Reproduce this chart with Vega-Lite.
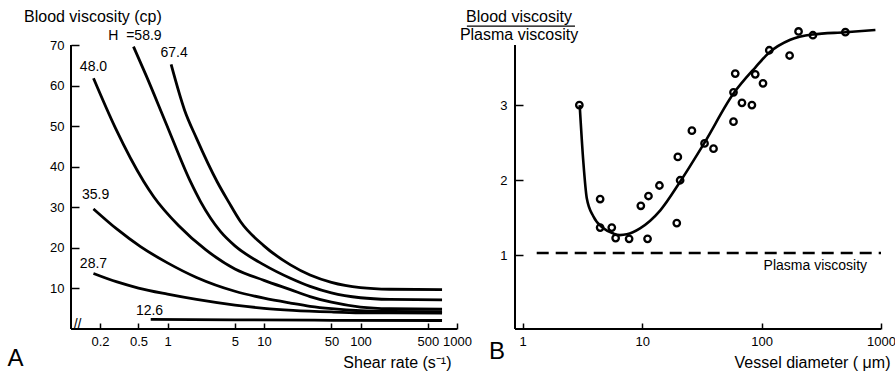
{
  "$schema": "https://vega.github.io/schema/vega-lite/v6.json",
  "padding": {"left": 7, "top": 8, "right": 0, "bottom": 0},
  "background": "white",
  "spacing": 58,
  "bounds": "flush",
  "config": {
    "view": {"stroke": null},
    "font": "Liberation Sans",
    "axis": {
      "grid": false,
      "domain": false,
      "ticks": true,
      "tickColor": "black",
      "tickWidth": 1.5,
      "labelColor": "black",
      "labelFont": "Liberation Sans",
      "labelFontSize": 13,
      "labelOverlap": false,
      "labelFlush": false,
      "titleFont": "Liberation Sans",
      "titleFontSize": 16,
      "titleFontWeight": "normal",
      "titleColor": "black"
    },
    "title": {"font": "Liberation Sans", "fontSize": 24, "fontWeight": "normal", "color": "black"}
  },
  "hconcat": [
    {
      "width": 386,
      "height": 284,
      "title": {"text": "A", "orient": "bottom", "anchor": "start", "frame": "group", "dx": -63.5, "offset": -24},
      "layer": [
        {
          "data": {"values": [{"a": 0.1, "a2": 1000, "b": 0}]},
          "mark": {"type": "rule", "color": "black", "strokeWidth": 2},
          "encoding": {
            "x": {"field": "a", "type": "quantitative"},
            "x2": {"field": "a2"},
            "y": {"field": "b", "type": "quantitative"}
          }
        },
        {
          "data": {"values": [{"a": 0.1, "b": 0, "b2": 70}]},
          "mark": {"type": "rule", "color": "black", "strokeWidth": 2},
          "encoding": {
            "x": {"field": "a", "type": "quantitative"},
            "y": {"field": "b", "type": "quantitative"},
            "y2": {"field": "b2"}
          }
        },
        {
          "data": {"values": [
            {"H": "12.6", "shear": 0.67, "visc": 2.35},
            {"H": "12.6", "shear": 5, "visc": 2.25},
            {"H": "12.6", "shear": 50, "visc": 2.15},
            {"H": "12.6", "shear": 700, "visc": 2.1},
            {"H": "28.7", "shear": 0.171, "visc": 13.7},
            {"H": "28.7", "shear": 0.3, "visc": 11.6},
            {"H": "28.7", "shear": 0.5, "visc": 10.1},
            {"H": "28.7", "shear": 1, "visc": 8.6},
            {"H": "28.7", "shear": 2, "visc": 7.3},
            {"H": "28.7", "shear": 5, "visc": 5.9},
            {"H": "28.7", "shear": 10, "visc": 5.1},
            {"H": "28.7", "shear": 20, "visc": 4.6},
            {"H": "28.7", "shear": 50, "visc": 4.2},
            {"H": "28.7", "shear": 100, "visc": 4.0},
            {"H": "28.7", "shear": 200, "visc": 3.95},
            {"H": "28.7", "shear": 700, "visc": 3.9},
            {"H": "35.9", "shear": 0.171, "visc": 29.6},
            {"H": "35.9", "shear": 0.3, "visc": 24.6},
            {"H": "35.9", "shear": 0.525, "visc": 20.3},
            {"H": "35.9", "shear": 1, "visc": 16.3},
            {"H": "35.9", "shear": 2, "visc": 12.7},
            {"H": "35.9", "shear": 5, "visc": 9.3},
            {"H": "35.9", "shear": 10, "visc": 7.6},
            {"H": "35.9", "shear": 18.8, "visc": 6.4},
            {"H": "35.9", "shear": 30, "visc": 5.6},
            {"H": "35.9", "shear": 50, "visc": 5.0},
            {"H": "35.9", "shear": 100, "visc": 4.5},
            {"H": "35.9", "shear": 200, "visc": 4.35},
            {"H": "35.9", "shear": 700, "visc": 4.3},
            {"H": "48.0", "shear": 0.171, "visc": 61.8},
            {"H": "48.0", "shear": 0.289, "visc": 49.5},
            {"H": "48.0", "shear": 0.569, "visc": 36.3},
            {"H": "48.0", "shear": 0.72, "visc": 32.6},
            {"H": "48.0", "shear": 1.3, "visc": 25.5},
            {"H": "48.0", "shear": 2.5, "visc": 19.5},
            {"H": "48.0", "shear": 5, "visc": 14.8},
            {"H": "48.0", "shear": 10, "visc": 12.0},
            {"H": "48.0", "shear": 18.8, "visc": 9.7},
            {"H": "48.0", "shear": 30, "visc": 8.0},
            {"H": "48.0", "shear": 50, "visc": 6.6},
            {"H": "48.0", "shear": 100, "visc": 5.4},
            {"H": "48.0", "shear": 200, "visc": 5.0},
            {"H": "48.0", "shear": 700, "visc": 4.9},
            {"H": "58.9", "shear": 0.444, "visc": 69.6},
            {"H": "58.9", "shear": 0.6, "visc": 62.5},
            {"H": "58.9", "shear": 0.95, "visc": 51.1},
            {"H": "58.9", "shear": 1.73, "visc": 36.3},
            {"H": "58.9", "shear": 2.2, "visc": 31.4},
            {"H": "58.9", "shear": 3.55, "visc": 24.0},
            {"H": "58.9", "shear": 5, "visc": 20.5},
            {"H": "58.9", "shear": 10, "visc": 15.8},
            {"H": "58.9", "shear": 18.8, "visc": 12.5},
            {"H": "58.9", "shear": 30, "visc": 10.5},
            {"H": "58.9", "shear": 50, "visc": 8.9},
            {"H": "58.9", "shear": 100, "visc": 7.7},
            {"H": "58.9", "shear": 200, "visc": 7.3},
            {"H": "58.9", "shear": 700, "visc": 7.2},
            {"H": "67.4", "shear": 1.09, "visc": 65.2},
            {"H": "67.4", "shear": 1.5, "visc": 54.0},
            {"H": "67.4", "shear": 2, "visc": 47.0},
            {"H": "67.4", "shear": 3.27, "visc": 36.3},
            {"H": "67.4", "shear": 4.28, "visc": 31.4},
            {"H": "67.4", "shear": 5.7, "visc": 26.5},
            {"H": "67.4", "shear": 10, "visc": 20.5},
            {"H": "67.4", "shear": 18.8, "visc": 15.8},
            {"H": "67.4", "shear": 30, "visc": 13.3},
            {"H": "67.4", "shear": 50, "visc": 11.5},
            {"H": "67.4", "shear": 100, "visc": 10.2},
            {"H": "67.4", "shear": 200, "visc": 9.8},
            {"H": "67.4", "shear": 700, "visc": 9.7}
          ]},
          "mark": {"type": "line", "color": "black", "strokeWidth": 2.8, "interpolate": "monotone"},
          "encoding": {
            "x": {
              "field": "shear", "type": "quantitative",
              "scale": {"type": "log", "domain": [0.1, 1000], "nice": false},
              "axis": {
                "values": [0.2, 0.5, 1, 5, 10, 50, 100, 500, 1000],
                "format": "~g",
                "tickSize": -6,
                "labelPadding": 12,
                "title": "Shear rate (s⁻¹)",
                "titleAlign": "right",
                "titleBaseline": "alphabetic",
                "titleX": 380,
                "titleY": 38.5
              }
            },
            "y": {
              "field": "visc", "type": "quantitative",
              "scale": {"domain": [0, 70], "nice": false},
              "axis": {
                "values": [10, 20, 30, 40, 50, 60, 70],
                "tickSize": -8,
                "labelPadding": 15,
                "title": "Blood viscosity (cp)",
                "titleAngle": 0,
                "titleAlign": "left",
                "titleBaseline": "alphabetic",
                "titleX": -47.5,
                "titleY": -23.3
              }
            },
            "detail": {"field": "H"}
          }
        },
        {
          "data": {"values": [
            {"label": "H\u00a0\u00a0=58.9", "shear": 0.46, "visc": 71.2},
            {"label": "67.4", "shear": 1.17, "visc": 67.1},
            {"label": "48.0", "shear": 0.171, "visc": 63.7},
            {"label": "35.9", "shear": 0.18, "visc": 32.1},
            {"label": "28.7", "shear": 0.171, "visc": 15.1},
            {"label": "12.6", "shear": 0.651, "visc": 3.5},
            {"label": "//", "shear": 0.117, "visc": 0}
          ]},
          "mark": {"type": "text", "fontSize": 14, "align": "center", "baseline": "alphabetic", "color": "black"},
          "encoding": {
            "x": {"field": "shear", "type": "quantitative"},
            "y": {"field": "visc", "type": "quantitative"},
            "text": {"field": "label"}
          }
        }
      ]
    },
    {
      "width": 366,
      "height": 284,
      "title": {"text": "B", "orient": "bottom", "anchor": "start", "frame": "group", "dx": -26, "offset": -30},
      "layer": [
        {
          "data": {"values": [{"a": 0.862, "a2": 1000, "b": 0.02}]},
          "mark": {"type": "rule", "color": "black", "strokeWidth": 2},
          "encoding": {
            "x": {"field": "a", "type": "quantitative"},
            "x2": {"field": "a2"},
            "y": {"field": "b", "type": "quantitative"}
          }
        },
        {
          "data": {"values": [{"a": 0.862, "b": 0.02, "b2": 3.8}]},
          "mark": {"type": "rule", "color": "black", "strokeWidth": 2},
          "encoding": {
            "x": {"field": "a", "type": "quantitative"},
            "y": {"field": "b", "type": "quantitative"},
            "y2": {"field": "b2"}
          }
        },
        {
          "data": {"values": [{"d": 1.31, "d2": 1000, "r": 1.03}]},
          "mark": {"type": "rule", "color": "black", "strokeWidth": 2.5, "strokeDash": [12, 7]},
          "encoding": {
            "x": {"field": "d", "type": "quantitative"},
            "x2": {"field": "d2"},
            "y": {"field": "r", "type": "quantitative"}
          }
        },
        {
          "data": {"values": [{"d": 0.341, "d2": 2.74, "r": 4.05}]},
          "mark": {"type": "rule", "color": "black", "strokeWidth": 1.2},
          "encoding": {
            "x": {"field": "d", "type": "quantitative"},
            "x2": {"field": "d2"},
            "y": {"field": "r", "type": "quantitative"}
          }
        },
        {
          "data": {"values": [
            {"d": 3.0, "r": 3.0},
            {"d": 3.22, "r": 2.24},
            {"d": 3.44, "r": 1.76},
            {"d": 3.9, "r": 1.52},
            {"d": 4.74, "r": 1.36},
            {"d": 5.75, "r": 1.29},
            {"d": 6.5, "r": 1.27},
            {"d": 7.44, "r": 1.28},
            {"d": 9.6, "r": 1.36},
            {"d": 14.2, "r": 1.6},
            {"d": 20.8, "r": 1.98},
            {"d": 33.3, "r": 2.5},
            {"d": 58, "r": 3.15},
            {"d": 88.5, "r": 3.5},
            {"d": 116, "r": 3.7},
            {"d": 174, "r": 3.87},
            {"d": 269, "r": 3.94},
            {"d": 503, "r": 3.97},
            {"d": 898, "r": 4.0}
          ]},
          "mark": {"type": "line", "color": "black", "strokeWidth": 2.6, "interpolate": "monotone"},
          "encoding": {
            "x": {"field": "d", "type": "quantitative"},
            "y": {"field": "r", "type": "quantitative"}
          }
        },
        {
          "data": {"values": [
            {"d": 2.98, "r": 3.0},
            {"d": 4.45, "r": 1.75},
            {"d": 11.3, "r": 1.79},
            {"d": 13.96, "r": 1.93},
            {"d": 19.9, "r": 2.31},
            {"d": 20.8, "r": 2.0},
            {"d": 26.1, "r": 2.66},
            {"d": 33.3, "r": 2.49},
            {"d": 39.6, "r": 2.42},
            {"d": 58.2, "r": 2.78},
            {"d": 58.2, "r": 3.17},
            {"d": 60.2, "r": 3.42},
            {"d": 68.5, "r": 3.03},
            {"d": 83, "r": 3.0},
            {"d": 88.5, "r": 3.41},
            {"d": 102.8, "r": 3.29},
            {"d": 116, "r": 3.73},
            {"d": 171.7, "r": 3.66},
            {"d": 204, "r": 3.98},
            {"d": 269, "r": 3.93},
            {"d": 503, "r": 3.97},
            {"d": 4.45, "r": 1.37},
            {"d": 5.57, "r": 1.37},
            {"d": 6.0, "r": 1.23},
            {"d": 7.78, "r": 1.22},
            {"d": 9.75, "r": 1.66},
            {"d": 11.1, "r": 1.22},
            {"d": 19.5, "r": 1.43}
          ]},
          "mark": {"type": "point", "shape": "circle", "filled": false, "color": "black", "strokeWidth": 2.3, "size": 42, "opacity": 1},
          "encoding": {
            "x": {
              "field": "d", "type": "quantitative",
              "scale": {"type": "log", "domain": [0.862, 1000], "nice": false},
              "axis": {
                "values": [1, 10, 100, 1000],
                "format": "~g",
                "tickSize": -6,
                "labelPadding": 12,
                "title": "Vessel diameter ( μm)",
                "titleAlign": "right",
                "titleBaseline": "alphabetic",
                "titleX": 375,
                "titleY": 38
              }
            },
            "y": {
              "field": "r", "type": "quantitative",
              "scale": {"domain": [0.02, 3.8], "nice": false, "zero": false},
              "axis": {
                "values": [1, 2, 3],
                "format": "~g",
                "tickSize": -8,
                "labelPadding": 16,
                "title": ["Blood viscosity", "Plasma viscosity"],
                "titleAngle": 0,
                "titleAlign": "center",
                "titleBaseline": "alphabetic",
                "titleLineHeight": 17.7,
                "titleX": 3.5,
                "titleY": -23.3
              }
            }
          }
        },
        {
          "data": {"values": [{"label": "Plasma viscosity", "d": 282, "r": 0.8}]},
          "mark": {"type": "text", "fontSize": 14, "align": "center", "baseline": "alphabetic", "color": "black"},
          "encoding": {
            "x": {"field": "d", "type": "quantitative"},
            "y": {"field": "r", "type": "quantitative"},
            "text": {"field": "label"}
          }
        }
      ]
    }
  ]
}
